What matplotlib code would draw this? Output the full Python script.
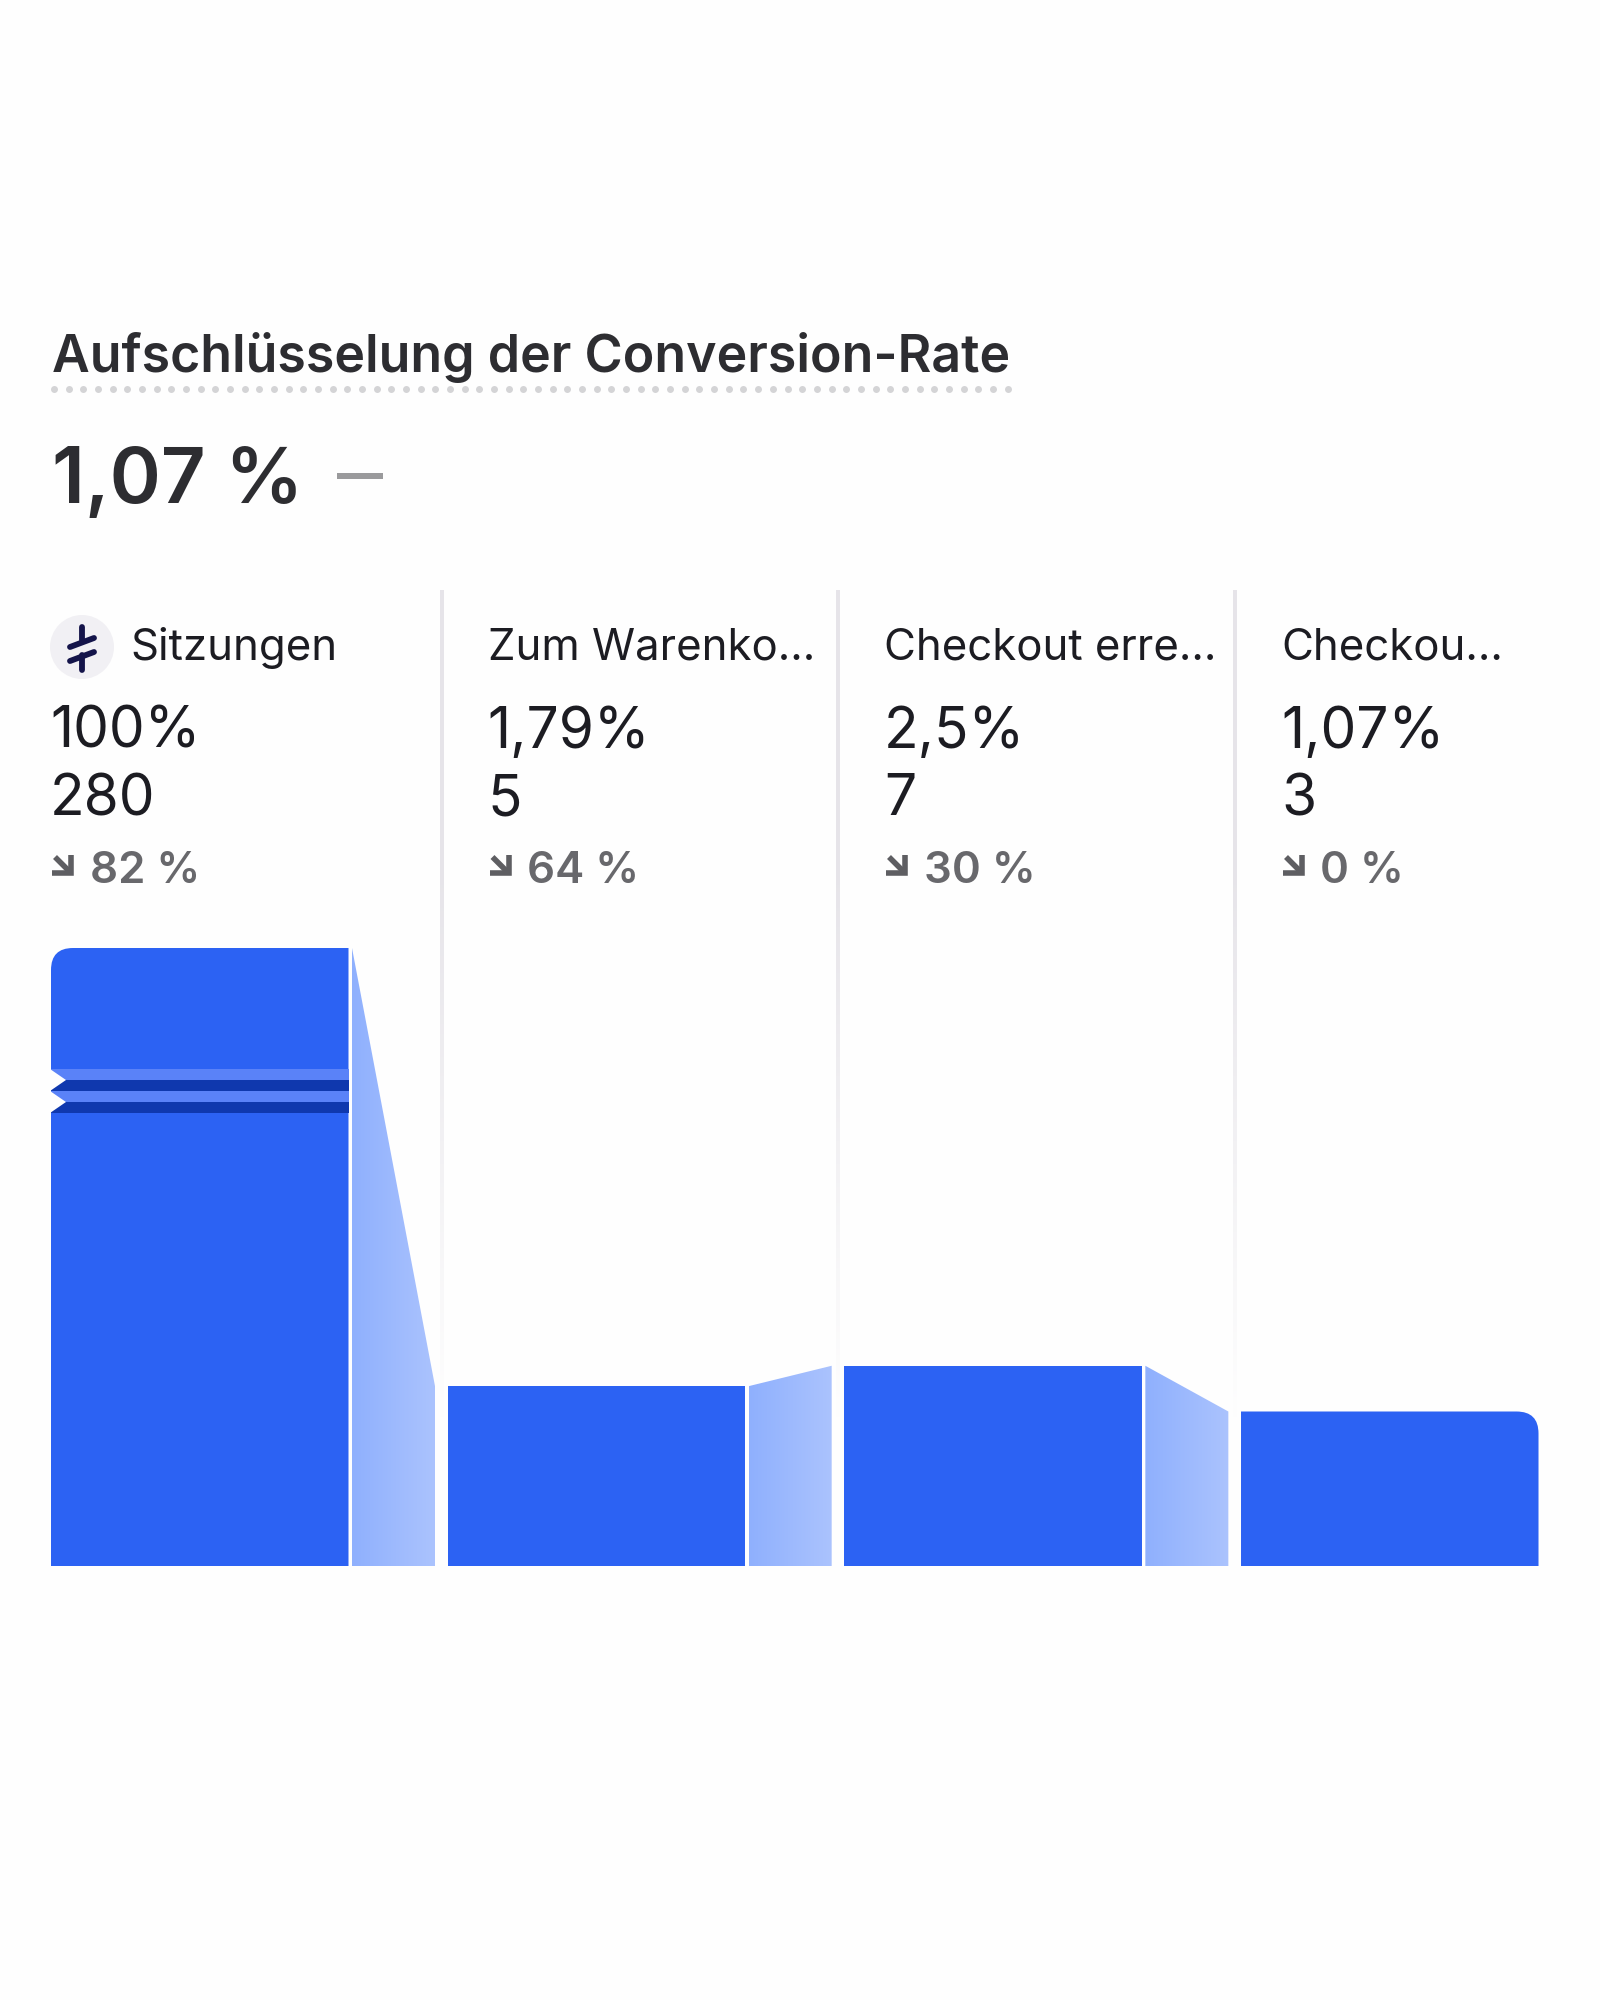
import numpy as np
import matplotlib
matplotlib.use('Agg')
import matplotlib.pyplot as plt
from matplotlib.colors import to_rgb
from matplotlib.path import Path
from matplotlib.patches import PathPatch, Polygon, Circle, Rectangle

plt.rcParams['font.family'] = ['Inter', 'DejaVu Sans']

# Data
title = 'Aufschlüsselung der Conversion-Rate'
headline = '1,07 %'
step_names = ['Sitzungen', 'Zum Warenko...', 'Checkout erre...', 'Checkou...']
step_rates = ['100%', '1,79%', '2,5%', '1,07%']
step_counts = ['280', '5', '7', '3']
step_drops = ['82 %', '64 %', '30 %', '0 %']
# bar heights as displayed (the axis is broken), in % of the first bar
bar_heights = [100, 29.1, 32.4, 25.0]

# Colours
BG = '#fefefe'
BAR = '#2c62f3'
STRIPE_LIGHT = '#5a82f8'
STRIPE_DARK = '#0f38ae'
TEXT = '#1c1c22'
TITLE = '#2d2d31'
MUTED = '#68686c'

W, H = 1600, 2000
fig = plt.figure(figsize=(W / 100, H / 100), dpi=100, facecolor=BG)

# Background axes in pixel coordinates for texts and decoration
bg = fig.add_axes([0, 0, 1, 1], zorder=0)
bg.axis('off')

# Title, dotted underline, headline
bg.text(52, 372, title, fontsize=37.35, fontweight=600, color=TITLE, va='baseline')
dots_x = np.arange(54, 1014, 14.67)
bg.plot(dots_x, np.full_like(dots_x, 389), ls='none', marker='o', ms=5, mew=0, color='#d4d4d6')
bg.text(52, 503, headline, fontsize=56, fontweight=600, color=TITLE, va='baseline')
bg.add_patch(Rectangle((337, 473), 46, 6, fc='#9a9a9c', ec='none'))

# Column header texts
col_x = [50, 487.5, 884, 1281]
for i in range(4):
    x = col_x[i]
    name_x = 130 if i == 0 else x
    bg.text(name_x, 660, step_names[i], fontsize=31.5, color=TEXT, va='baseline')
    bg.text(x, 748, step_rates[i], fontsize=40.9, color=TEXT, va='baseline')
    bg.text(x, 815, step_counts[i], fontsize=40.9, color=TEXT, va='baseline')
    bg.text(x + 39.5, 883, step_drops[i], fontsize=31.5, fontweight=600, color=MUTED, va='baseline')
    # down-right arrow
    a = x + 2
    bg.plot([a + 3, a + 19], [857, 873], color='#5e5e62', lw=4, solid_capstyle='butt')
    bg.plot([a, a + 19, a + 19], [873, 873, 855], color='#5e5e62', lw=4,
            solid_capstyle='butt', solid_joinstyle='miter')

# Icon of the first column
bg.add_patch(Circle((82, 647), 32, fc='#f1f0f4', ec='none'))
icon_strokes = [([82, 82], [627, 640]), ([70, 94], [647, 638]), ([70, 94], [661, 652]), ([82, 82], [655, 670])]
for xs, ys in icon_strokes:
    bg.plot(xs, ys, color='#14144a', lw=4.2, solid_capstyle='round')

# Separators, fading out towards the bars
fade = np.ones((256, 1, 4))
fade[:, :, :3] = to_rgb('#e6e4e9')
fade[:, 0, 3] = np.clip(np.linspace(1.5, 0, 256), 0, 1)
for x in [442, 838, 1235]:
    bg.imshow(fade, extent=(x - 2, x + 2, 1420, 590), aspect='auto', zorder=1)
bg.set_xlim(0, W)
bg.set_ylim(H, 0)

# Funnel, one unit per step on x, % of the first bar on y
PITCH = 396.67
BAR_W = 297.5 / PITCH
LINK_X0, LINK_X1 = 301 / PITCH, 384 / PITCH
ax = fig.add_axes([51 / W, 1 - 1566 / H, (3 * PITCH + 297.5) / W, 618 / H], zorder=2)
ax.patch.set_alpha(0)
ax.axis('off')
rx = 22 / PITCH
ry = 22 / 618 * 100

for i, h in enumerate(bar_heights):
    x0, x1 = i, i + BAR_W
    if i == 0:
        verts = [(x0, 0), (x0, h - ry), (x0, h), (x0 + rx, h), (x1, h), (x1, 0), (x0, 0)]
        codes = [Path.MOVETO, Path.LINETO, Path.CURVE3, Path.CURVE3, Path.LINETO, Path.LINETO, Path.CLOSEPOLY]
    elif i == 3:
        verts = [(x0, 0), (x0, h), (x1 - rx, h), (x1, h), (x1, h - ry), (x1, 0), (x0, 0)]
        codes = [Path.MOVETO, Path.LINETO, Path.LINETO, Path.CURVE3, Path.CURVE3, Path.LINETO, Path.CLOSEPOLY]
    else:
        verts = [(x0, 0), (x0, h), (x1, h), (x1, 0), (x0, 0)]
        codes = [Path.MOVETO, Path.LINETO, Path.LINETO, Path.LINETO, Path.CLOSEPOLY]
    ax.add_patch(PathPatch(Path(verts, codes), fc=BAR, ec='none'))

# Gradient connectors between the bars
grad = np.linspace(np.array(to_rgb('#8fb0fd')), np.array(to_rgb('#abc3fe')), 128)[None, :, :]
for i in range(3):
    x0, x1 = i + LINK_X0, i + LINK_X1
    im = ax.imshow(grad, extent=(x0, x1, 0, 100), aspect='auto', zorder=2)
    poly = Polygon([(x0, 0), (x0, bar_heights[i]), (x1, bar_heights[i + 1]), (x1, 0)],
                   transform=ax.transData, fc='none', ec='none')
    ax.add_patch(poly)
    im.set_clip_path(poly)
ax.set_xlim(0, 3 + BAR_W)
ax.set_ylim(0, 100)

# Axis break on the first bar, in pixel coordinates
overlay = fig.add_axes([0, 0, 1, 1], zorder=3)
overlay.patch.set_alpha(0)
overlay.axis('off')
overlay.set_xlim(0, W)
overlay.set_ylim(H, 0)
stripe_y = [1069, 1080, 1091, 1102]
stripe_col = [STRIPE_LIGHT, STRIPE_DARK, STRIPE_LIGHT, STRIPE_DARK]
for y, col in zip(stripe_y, stripe_col):
    overlay.add_patch(Rectangle((51, y), 297.5, 11, fc=col, ec='none'))
overlay.add_patch(Polygon([(50, 1069), (66, 1080), (50, 1091)], fc=BG, ec='none'))
overlay.add_patch(Polygon([(50, 1091), (66, 1102), (50, 1113)], fc=BG, ec='none'))

fig.savefig('out.png', dpi=100, facecolor=BG)
